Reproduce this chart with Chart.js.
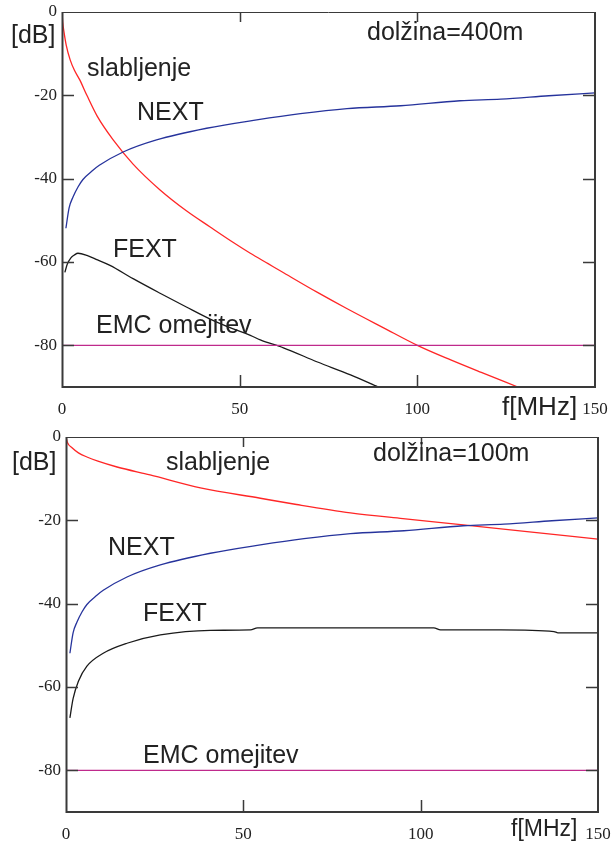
<!DOCTYPE html>
<html><head><meta charset="utf-8">
<script src="https://cdn.jsdelivr.net/npm/chart.js@4/dist/chart.umd.min.js"></script>
<style>
html,body{margin:0;padding:0;background:#fff;width:615px;height:842px;overflow:hidden}
.wrap{position:absolute;left:0;width:615px;height:421px}
#w1{top:0}
#w2{top:421px}
</style></head><body>
<div class="wrap" id="w1"><canvas id="c1"></canvas></div>
<div class="wrap" id="w2"><canvas id="c2"></canvas></div>
<script>
// ---- axes ----
const xTicks = [0, 50, 100, 150];
const yTicks = [0, -20, -40, -60, -80];
const yTickLabels = ['0', '-20', '-40', '-60', '-80'];

// ---- NEXT (same for both lengths) ----
const nextFreq = [1.1, 2, 3.1, 4.5, 5.9, 8.7, 10.5, 17.2, 26.6, 40.7, 54.8, 67.1, 80.2, 95.3, 112, 123.5, 137, 150];
const nextDb   = [-51.9, -47, -44.4, -42, -40.2, -38, -36.8, -33.6, -30.7, -27.9, -25.9, -24.4, -23.2, -22.5, -21.3, -20.9, -20.1, -19.4];

// ---- 400 m ----
const att400Freq = [0, 0.2, 0.6, 1.2, 2.3, 3.5, 5, 7, 9.9, 14.4, 20, 27.6, 35, 41.7, 48, 53, 58, 62, 71.9, 80, 90.5, 100, 109.4, 118, 128.3];
const att400Db   = [0, -2.5, -5, -8, -11.5, -14, -16.3, -20, -25, -30.7, -36.5, -42.7, -47.7, -51.6, -55.2, -57.9, -60.4, -62.4, -67.3, -71.1, -75.8, -80, -83.5, -86.5, -90];
const fext400Freq = [0.8, 1.5, 2.5, 3.5, 4.5, 7, 10, 13.5, 20, 27.6, 35, 41.7, 48, 53, 55.8, 62.3, 71.9, 81.2, 89];
const fext400Db   = [-62.5, -60.5, -59, -58.3, -57.9, -58.4, -59.5, -60.8, -64, -67.5, -70.8, -73.7, -76, -77.6, -78.7, -80.6, -84, -87.1, -90];

// ---- 100 m ----
const att100Freq = [0, 0.4, 1.7, 3.5, 5.9, 9, 14.4, 23.7, 37.9, 54.8, 65, 80.2, 95, 112, 130, 150];
const att100Db   = [0, -1.3, -2.6, -3.8, -4.8, -5.8, -7.2, -9.1, -12.2, -14.7, -16.2, -18.2, -19.6, -21.1, -22.7, -24.5];
const fext100Freq = [1.1, 2, 3.5, 5.9, 10.5, 17.2, 26.6, 40.7, 52, 54, 80, 103.7, 105.6, 122.6, 137.6, 138.7, 150];
const fext100Db   = [-67.4, -62.8, -58.6, -55, -51.9, -49.5, -47.5, -46.4, -46.3, -45.8, -45.8, -45.8, -46.3, -46.3, -46.7, -47, -47];

// ---- EMC limit ----
const emcFreq = [0, 150];
const emcDb = [-80, -80];

const pts = (xs, ys) => xs.map((v, i) => ({x: v, y: ys[i]}));

const RED = '#ff2626', BLUE = '#26339c', BLACK = '#1a1a1a', MAG = '#bf2a8c';
const TXT = '#222222', AXC = '#3a3a3a';

const framePlugin = {
  id: 'frame',
  afterDatasetsDraw(chart, args, opts) {
    const {ctx, chartArea: a, scales: {x, y}} = chart;
    ctx.save();
    ctx.strokeStyle = AXC;
    ctx.lineCap = 'butt';
    ctx.lineWidth = 2;
    ctx.beginPath();
    ctx.moveTo(a.left + 0.5, a.top); ctx.lineTo(a.left + 0.5, a.bottom + 1);
    ctx.moveTo(a.left - 0.5, a.bottom); ctx.lineTo(a.right + 1, a.bottom);
    ctx.moveTo(a.right, a.top); ctx.lineTo(a.right, a.bottom + 1);
    ctx.stroke();
    ctx.lineWidth = 1;
    ctx.beginPath();
    ctx.moveTo(a.left, a.top + 0.5); ctx.lineTo(a.right, a.top + 0.5);
    ctx.stroke();
    ctx.lineWidth = 1.5;
    ctx.beginPath();
    yTicks.forEach(v => {
      if (v === 0) return;
      const py = Math.round(y.getPixelForValue(v)) + 0.5;
      ctx.moveTo(a.left, py); ctx.lineTo(a.left + 12, py);
      ctx.moveTo(a.right, py); ctx.lineTo(a.right - 12, py);
    });
    xTicks.forEach(v => {
      if (v === 0 || v === 150) return;
      const px = Math.round(x.getPixelForValue(v)) + 0.5;
      ctx.moveTo(px, a.bottom); ctx.lineTo(px, a.bottom - 12);
      ctx.moveTo(px, a.top); ctx.lineTo(px, a.top + 10);
    });
    ctx.stroke();
    ctx.restore();
  },
  afterDraw(chart, args, opts) {
    const ctx = chart.ctx;
    ctx.save();
    ctx.fillStyle = TXT;
    ctx.textBaseline = 'alphabetic';
    ctx.textAlign = 'left';
    (opts.labels || []).forEach(l => {
      ctx.font = (l.size || 25) + 'px "Liberation Sans", Arial, sans-serif';
      ctx.fillText(l.text, l.x, l.y);
    });
    ctx.restore();
  }
};

function makeChart(id, datasets, area, labels) {
  return new Chart(document.getElementById(id), {
    type: 'line',
    data: {datasets},
    plugins: [framePlugin],
    options: {
      responsive: true,
      maintainAspectRatio: false,
      animation: false,
      layout: {padding: {top: area.top, right: area.right, left: 0, bottom: 0}},
      elements: {point: {radius: 0}, line: {borderWidth: 1.3, cubicInterpolationMode: 'monotone'}},
      plugins: {legend: {display: false}, tooltip: {enabled: false}, frame: {labels}},
      scales: {
        x: {
          type: 'linear', min: 0, max: 150,
          afterBuildTicks: s => { s.ticks = xTicks.map(v => ({value: v})); },
          afterFit: s => { s.height = area.xh; s.paddingLeft = 0; s.paddingRight = 0; },
          grid: {display: false, drawTicks: false},
          border: {display: false},
          ticks: {padding: 12, color: TXT, font: {family: '"Liberation Serif", "Times New Roman", serif', size: 17}, callback: v => String(v), maxRotation: 0}
        },
        y: {
          type: 'linear', min: -90, max: 0,
          afterBuildTicks: s => { s.ticks = yTicks.map(v => ({value: v})); },
          afterFit: s => { s.width = area.yw; s.paddingTop = 0; s.paddingBottom = 0; },
          grid: {display: false, drawTicks: false},
          border: {display: false},
          ticks: {padding: 5, color: TXT, font: {family: '"Liberation Serif", "Times New Roman", serif', size: 17}, callback: v => yTickLabels[yTicks.indexOf(v)]}
        }
      }
    }
  });
}

const ds = (data, color) => ({data, borderColor: color, backgroundColor: color, fill: false});

makeChart('c1', [
  ds(pts(emcFreq, emcDb), MAG),
  ds(pts(fext400Freq, fext400Db), BLACK),
  ds(pts(nextFreq, nextDb), BLUE),
  ds(pts(att400Freq, att400Db), RED)
], {top: 12, right: 20, xh: 34, yw: 62}, [
  {text: '[dB]', x: 11, y: 43},
  {text: 'slabljenje', x: 87, y: 76},
  {text: 'NEXT', x: 137, y: 120},
  {text: 'FEXT', x: 113, y: 257},
  {text: 'EMC omejitev', x: 96, y: 333},
  {text: 'dolžina=400m', x: 367, y: 39.5},
  {text: 'f[MHz]', x: 502, y: 415, size: 26}
]);

makeChart('c2', [
  ds(pts(emcFreq, emcDb), MAG),
  ds(pts(fext100Freq, fext100Db), BLACK),
  ds(pts(nextFreq, nextDb), BLUE),
  ds(pts(att100Freq, att100Db), RED)
], {top: 16, right: 17, xh: 30, yw: 66}, [
  {text: '[dB]', x: 12, y: 49},
  {text: 'slabljenje', x: 166, y: 49},
  {text: 'NEXT', x: 108, y: 134},
  {text: 'FEXT', x: 143, y: 200},
  {text: 'EMC omejitev', x: 143, y: 342},
  {text: 'dolžina=100m', x: 373, y: 39.5},
  {text: 'f[MHz]', x: 511, y: 415, size: 23}
]);
</script>
</body></html>
